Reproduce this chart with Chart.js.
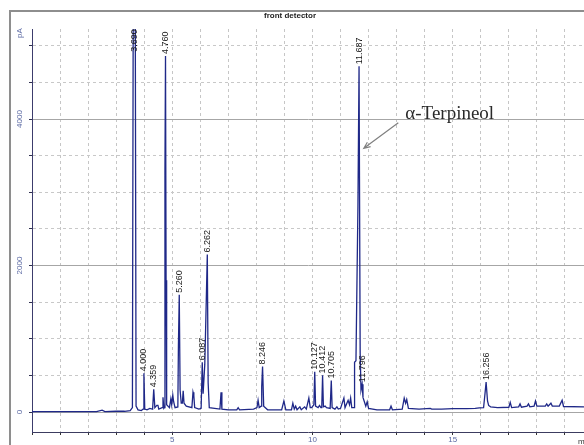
<!DOCTYPE html>
<html>
<head>
<meta charset="utf-8">
<script src="https://cdn.jsdelivr.net/npm/chart.js@4/dist/chart.umd.min.js"></script>
<style>
  html, body { margin: 0; padding: 0; background: #fff; overflow: hidden; }
</style>
</head>
<body>
<canvas id="chromatogram" width="584" height="445"></canvas>
<script>
// retention time (min) and detector signal (pA)
const times = [
  0, 2.3, 2.5, 2.6, 3.0, 3.3, 3.5,
  3.58, 3.61, 3.68, 3.71, 3.78, 3.9,
  3.96, 3.99, 4.02, 4.1, 4.2,
  4.30, 4.34, 4.38, 4.45, 4.49, 4.52,
  4.64, 4.67, 4.70, 4.72, 4.74, 4.76, 4.78, 4.80,
  4.90, 4.95, 4.98, 5.02, 5.05, 5.10,
  5.20, 5.22, 5.25, 5.28, 5.32,
  5.36, 5.39, 5.42, 5.50,
  5.70, 5.74, 5.77, 5.80, 5.95,
  6.03, 6.07, 6.10, 6.16, 6.20, 6.25, 6.28, 6.32,
  6.70, 6.74, 6.77, 7.0, 7.3, 7.35, 7.4, 7.9,
  8.02, 8.06, 8.10, 8.17, 8.19, 8.22, 8.26, 8.4,
  8.9, 8.98, 9.05, 9.25, 9.3, 9.35, 9.4, 9.45, 9.55, 9.6, 9.72, 9.78, 9.87, 9.92, 9.97,
  10.05, 10.08, 10.11, 10.2, 10.25, 10.3,
  10.33, 10.36, 10.39, 10.45, 10.5,
  10.63, 10.67, 10.70, 10.8, 10.87, 10.92, 11.0, 11.12, 11.16, 11.27, 11.32, 11.36, 11.40,
  11.48, 11.50, 11.55, 11.62, 11.66, 11.70,
  11.73, 11.77, 11.80, 11.85, 11.9, 11.95, 12.0, 12.3,
  12.75, 12.8, 12.85, 13.2, 13.27, 13.32, 13.36, 13.42, 13.8, 14.2, 14.25, 14.6,
  15.0, 15.5, 15.8, 15.95, 16.1,
  16.15, 16.19, 16.24, 16.28, 16.35, 16.6,
  17.0, 17.05, 17.1, 17.35, 17.4, 17.45, 17.65, 17.7, 17.75, 17.9, 17.95, 18.0,
  18.3, 18.35, 18.4, 18.5, 18.55, 18.8, 18.9, 18.95, 19.7
];
const signal = [
  5, 5, 25, 5, 10, 10, 20,
  60, 5800, 5800, 80, 30, 20,
  40, 530, 40, 30, 50,
  40, 310, 60, 90, 90, 40,
  60, 200, 50, 60, 3300, 4860, 1800, 100,
  60, 180, 100, 230, 140, 60,
  70, 900, 1600, 300, 120,
  120, 290, 120, 80,
  60, 270, 220, 60, 40,
  50, 680, 250, 650, 1300, 2150, 400, 60,
  40, 270, 40, 30, 30, 60, 30, 40,
  60, 160, 60, 80, 350, 620, 80, 30,
  30, 150, 30, 30, 120, 40, 80, 30, 70, 30, 70, 40, 190, 60, 60,
  100, 550, 80, 60, 90, 60,
  60, 500, 70, 80, 60,
  50, 430, 60, 40, 70, 40, 50, 190, 60, 160, 100, 190, 60,
  60, 680, 700, 2800, 4720, 800,
  300, 380, 200, 140, 80, 140, 50, 30,
  30, 80, 30, 40, 190, 120, 170, 50, 40, 50, 40, 40,
  45, 45, 50, 55, 60,
  250, 410, 150, 90, 70, 60,
  65, 130, 60, 70, 110, 65, 80, 110, 70, 80, 150, 80,
  80, 110, 80, 120, 80, 80, 160, 75, 70
];

// integrated peaks: printed retention time and apex height (pA)
const peakNames = ["3.690", "4.000", "4.359", "4.760", "5.260", "6.087", "6.262",
  "8.246", "10.127", "10.412", "10.705", "11.687", "11.796", "16.256"];
const peakTimes = [3.645, 3.99, 4.34, 4.75, 5.25, 6.07, 6.25, 8.22, 10.08, 10.36, 10.67, 11.66, 11.77, 16.19];
const peakHeights = [5800, 530, 310, 4860, 1600, 680, 2150, 620, 550, 500, 430, 4720, 380, 410];

// axes
const yGrid = [0, 500, 1000, 1500, 2000, 2500, 3000, 3500, 4000, 4500, 5000];
const yLabels = [0, 2000, 4000];
const xGrid = [0, 1, 2, 3, 4, 5, 6, 7, 8, 9, 10, 11, 12, 13, 14, 15, 16, 17, 18, 19];
const xLabels = [5, 10, 15];

const font = '"Liberation Sans", Arial, sans-serif';
const labelCap = 4890; // labels of off-scale peaks stop at the top of the frame

const decorations = {
  id: "decorations",
  beforeDraw(chart) {
    const { ctx } = chart;
    ctx.save();
    ctx.fillStyle = "#fff";
    ctx.fillRect(0, 0, chart.width, chart.height);
    ctx.strokeStyle = "#8e8e8e";
    ctx.lineWidth = 2;
    ctx.beginPath();
    ctx.moveTo(10, chart.height);
    ctx.lineTo(10, 11);
    ctx.lineTo(chart.width, 11);
    ctx.stroke();

    ctx.fillStyle = "#222";
    ctx.font = "bold 8px " + font;
    ctx.textAlign = "center";
    ctx.textBaseline = "middle";
    ctx.fillText("front detector", 290, 16);
    ctx.restore();
  },
  afterDraw(chart) {
    const { ctx, chartArea } = chart;
    const x = chart.scales.x;
    const y = chart.scales.y;
    ctx.save();

    // y labels, written upwards
    ctx.fillStyle = "#5c6aa4";
    ctx.font = "8px " + font;
    ctx.textBaseline = "middle";
    for (const v of yLabels) {
      ctx.save();
      ctx.translate(20, y.getPixelForValue(v));
      ctx.rotate(-Math.PI / 2);
      ctx.textAlign = "center";
      ctx.fillText(String(v), 0, 0);
      ctx.restore();
    }
    ctx.save();
    ctx.translate(20, chartArea.top + 9);
    ctx.rotate(-Math.PI / 2);
    ctx.textAlign = "left";
    ctx.fillText("pA", 0, 0);
    ctx.restore();

    ctx.fillStyle = "#333";
    ctx.textAlign = "left";
    ctx.fillText("min", 578, 442);

    // peak retention times
    ctx.fillStyle = "#1a1a1a";
    ctx.font = "9px " + font;
    peakNames.forEach((name, i) => {
      const px = x.getPixelForValue(peakTimes[i]);
      const py = y.getPixelForValue(Math.min(peakHeights[i], labelCap)) - 2;
      ctx.save();
      ctx.translate(px, py);
      ctx.rotate(-Math.PI / 2);
      ctx.textAlign = "left";
      ctx.textBaseline = "middle";
      ctx.fillText(name, 0, 0);
      ctx.restore();
    });

    // compound annotation
    ctx.fillStyle = "#2a2a2a";
    ctx.font = '19px "Liberation Serif", "Times New Roman", serif';
    ctx.textAlign = "left";
    ctx.textBaseline = "alphabetic";
    ctx.fillText("\u03b1-Terpineol", x.getPixelForValue(13.31), y.getPixelForValue(4000));

    const ax1 = x.getPixelForValue(13.06), ay1 = y.getPixelForValue(3950);
    const ax2 = x.getPixelForValue(11.83), ay2 = y.getPixelForValue(3600);
    const ang = Math.atan2(ay2 - ay1, ax2 - ax1);
    ctx.strokeStyle = "#808080";
    ctx.lineWidth = 1.2;
    ctx.beginPath();
    ctx.moveTo(ax1, ay1);
    ctx.lineTo(ax2, ay2);
    ctx.moveTo(ax2 - 7 * Math.cos(ang - 0.4), ay2 - 7 * Math.sin(ang - 0.4));
    ctx.lineTo(ax2, ay2);
    ctx.lineTo(ax2 - 7 * Math.cos(ang + 0.4), ay2 - 7 * Math.sin(ang + 0.4));
    ctx.stroke();
    ctx.restore();
  }
};

new Chart(document.getElementById("chromatogram"), {
  type: "line",
  data: {
    datasets: [{
      data: times.map((t, i) => ({ x: t, y: signal[i] })),
      borderColor: "#1f2888",
      borderWidth: 1.3,
      pointRadius: 0,
      tension: 0,
      fill: false
    }]
  },
  options: {
    responsive: false,
    animation: false,
    events: [],
    layout: { padding: { top: 29, left: 0, right: 0, bottom: 0 } },
    plugins: { legend: { display: false }, tooltip: { enabled: false } },
    scales: {
      x: {
        type: "linear",
        min: 0,
        max: 19.68,
        ticks: {
          autoSkip: false,
          maxRotation: 0,
          padding: 0,
          color: "#5c6aa4",
          font: { size: 8, family: font },
          callback: (v) => (xLabels.includes(v) ? String(v) : "")
        },
        grid: { color: "#c6c6c6", tickLength: 3, tickColor: "#333" },
        border: { color: "#3c3c60", dash: [3, 3] },
        afterBuildTicks: (s) => { s.ticks = xGrid.map((v) => ({ value: v })); },
        afterFit: (s) => { s.height = 13; }
      },
      y: {
        min: -273,
        max: 5229,
        ticks: { display: false },
        grid: {
          color: (c) => (c.tick && c.tick.value % 2000 === 0 ? "#a6a6a6" : "#c8c8c8"),
          tickLength: 3,
          tickColor: "#303050"
        },
        border: {
          color: "#3c3c6c",
          dash: (c) => (c.tick && c.tick.value % 2000 === 0 ? [] : [3, 3])
        },
        afterBuildTicks: (s) => { s.ticks = yGrid.map((v) => ({ value: v })); },
        afterFit: (s) => { s.width = 32; }
      }
    }
  },
  plugins: [decorations]
});
</script>
</body>
</html>
